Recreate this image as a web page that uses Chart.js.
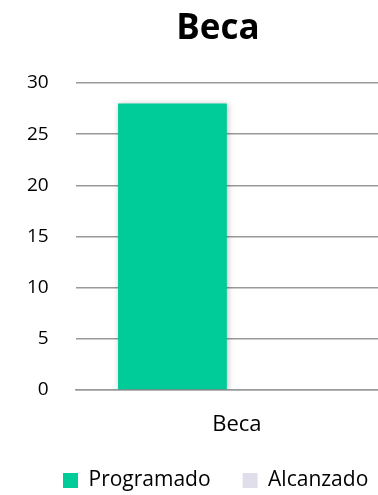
<!DOCTYPE html>
<html lang="es"><head>
<title>Beca</title>
<style>
* { margin: 0; padding: 0 }
body { background: #fff; }
#Box { width: 378px; height: 495px; }
</style>
<script src="https://cdn.jsdelivr.net/npm/chart.js"></script>
<script>

const categories = ["Beca"];
const programado = [28];
const alcanzado = [0];
const tickValues = [0, 5, 10, 15, 20, 25, 30];

const FONT = "'Open Sans', sans-serif";

// soft shadow under the bars, like the original
const barShadow = {
    id: "barShadow",
    beforeDatasetsDraw(chart) {
        const ctx = chart.ctx;
        ctx.save();
        ctx.shadowColor = "rgba(0,0,0,0.25)";
        ctx.shadowBlur = 6;
        ctx.shadowOffsetX = 1;
        ctx.shadowOffsetY = 1;
    },
    afterDatasetsDraw(chart) {
        chart.ctx.restore();
    },
};

// nudge title and legend sideways to where the original has them
const nudge = {
    id: "nudge",
    afterLayout(chart) {
        if (chart.titleBlock) {
            chart.titleBlock.left -= 9;
            chart.titleBlock.right -= 9;
        }
        if (chart.legend) {
            chart.legend.left += 31;
            chart.legend.right += 31;
        }
    },
};

function bodyOnLoad() {
    new Chart(document.getElementById("BecaChart"), {
        type: "bar",
        data: {
            labels: categories,
            datasets: [{
                label: "Programado",
                data: programado,
                backgroundColor: "#00CC99",
            }, {
                label: "Alcanzado",
                data: alcanzado,
                backgroundColor: "#E1DEEC",
            }],
        },
        options: {
            responsive: true,
            maintainAspectRatio: false,
            animation: false,
            categoryPercentage: 0.72,
            barPercentage: 1,
            layout: { padding: 0 },
            plugins: {
                title: {
                    display: true,
                    fullSize: false,
                    text: "Beca",
                    color: "#000",
                    font: { family: FONT, size: 35, weight: "bold" },
                    padding: { top: 8, bottom: 33 },
                },
                legend: {
                    position: "bottom",
                    align: "start",
                    maxHeight: 57,
                    labels: {
                        color: "#000",
                        font: { family: FONT, size: 21 },
                        boxWidth: 15,
                        boxHeight: 15,
                        padding: 32,
                    },
                },
                tooltip: { enabled: false },
            },
            scales: {
                y: {
                    min: 0,
                    max: 30,
                    afterBuildTicks: function(axis) {
                        axis.ticks = tickValues.map(v => ({ value: v }));
                    },
                    border: { display: false },
                    grid: { color: "#999", lineWidth: 1.5, drawTicks: false },
                    ticks: {
                        color: "#000",
                        font: { family: FONT, size: 19 },
                        padding: 27,
                    },
                },
                x: {
                    afterFit: function(axis) { axis.height = 48; },
                    border: { color: "#999", width: 1.5 },
                    grid: { display: false, drawTicks: false },
                    ticks: {
                        color: "#000",
                        font: { family: FONT, size: 22 },
                        padding: 22,
                        labelOffset: 10,
                    },
                },
            },
        },
        plugins: [barShadow, nudge],
    });
}

</script>
</head><body onload="bodyOnLoad()">
<div id="Box"><canvas id="BecaChart"></canvas></div>
</body></html>
